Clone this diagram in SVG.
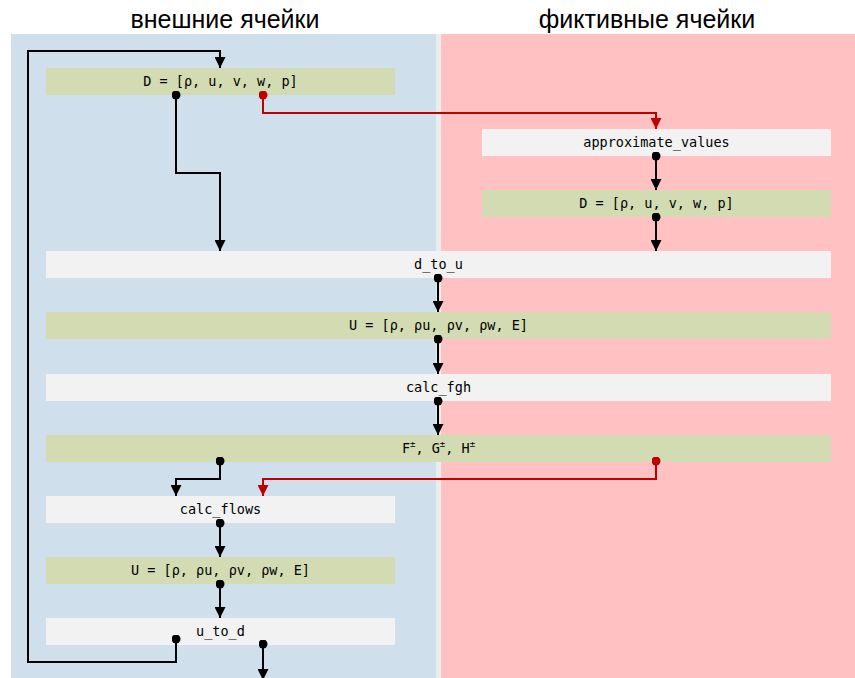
<svg xmlns="http://www.w3.org/2000/svg" width="855" height="678" viewBox="0 0 855 678">
  <defs>
    <marker id="arr" viewBox="0 0 10 10" refX="10" refY="5" markerWidth="11" markerHeight="11" markerUnits="userSpaceOnUse" orient="auto">
      <path d="M0,0 L10,5 L0,10 Z" fill="#000"/>
    </marker>
    <marker id="arr-red" viewBox="0 0 10 10" refX="10" refY="5" markerWidth="11" markerHeight="11" markerUnits="userSpaceOnUse" orient="auto">
      <path d="M0,0 L10,5 L0,10 Z" fill="#c00000"/>
    </marker>
    <marker id="dot" viewBox="0 0 10 10" refX="5" refY="5" markerWidth="9" markerHeight="9" markerUnits="userSpaceOnUse">
      <circle cx="5" cy="5" r="5" fill="#000"/>
    </marker>
    <marker id="dot-red" viewBox="0 0 10 10" refX="5" refY="5" markerWidth="9" markerHeight="9" markerUnits="userSpaceOnUse">
      <circle cx="5" cy="5" r="5" fill="#c00000"/>
    </marker>
  </defs>
  <style>
    .title { font-family: "Liberation Sans", Arial, sans-serif; font-size: 25px; fill: #000; text-anchor: middle; }
    .lbl { font-family: "DejaVu Sans Mono", "Liberation Mono", monospace; font-size: 13.5px; fill: #000; text-anchor: middle; }
    .sup { font-size: 9px; }
    .data { fill: #d3dbb3; }
    .func { fill: #f2f2f2; }
    .wire { fill: none; stroke: #000; stroke-width: 2; marker-start: url(#dot); marker-end: url(#arr); }
    .wire-red { fill: none; stroke: #c00000; stroke-width: 2; marker-start: url(#dot-red); marker-end: url(#arr-red); }
  </style>

  <!-- background zones -->
  <rect x="0" y="0" width="855" height="678" fill="#ffffff"/>
  <rect x="11" y="34" width="425" height="644" fill="#cfdfec"/>
  <rect x="436" y="34" width="5" height="644" fill="#eaedf0"/>
  <rect x="441" y="34" width="414" height="644" fill="#ffc1c1"/>
  <text class="title" x="225" y="28">внешние ячейки</text>
  <text class="title" x="647" y="28">фиктивные ячейки</text>

  <!-- nodes -->
  <g id="d-outer">
    <rect class="data" x="46" y="68" width="349" height="27"/>
    <text class="lbl" x="220.5" y="86">D = [ρ, u, v, w, p]</text>
  </g>
  <g id="approximate-values">
    <rect class="func" x="482" y="129" width="349" height="27"/>
    <text class="lbl" x="656.5" y="147">approximate_values</text>
  </g>
  <g id="d-ghost">
    <rect class="data" x="482" y="190" width="349" height="27"/>
    <text class="lbl" x="656.5" y="208">D = [ρ, u, v, w, p]</text>
  </g>
  <g id="d-to-u">
    <rect class="func" x="46" y="251" width="785" height="27"/>
    <text class="lbl" x="438.5" y="269">d_to_u</text>
  </g>
  <g id="u-all">
    <rect class="data" x="46" y="312" width="785" height="27"/>
    <text class="lbl" x="438.5" y="330">U = [ρ, ρu, ρv, ρw, E]</text>
  </g>
  <g id="calc-fgh">
    <rect class="func" x="46" y="374" width="785" height="27"/>
    <text class="lbl" x="438.5" y="392">calc_fgh</text>
  </g>
  <g id="fgh">
    <rect class="data" x="46" y="435" width="785" height="27"/>
    <text class="lbl" x="438.5" y="453">F<tspan class="sup" dy="-6">±</tspan><tspan dy="6">, G</tspan><tspan class="sup" dy="-6">±</tspan><tspan dy="6">, H</tspan><tspan class="sup" dy="-6">±</tspan></text>
  </g>
  <g id="calc-flows">
    <rect class="func" x="46" y="496" width="349" height="27"/>
    <text class="lbl" x="220.5" y="514">calc_flows</text>
  </g>
  <g id="u-outer">
    <rect class="data" x="46" y="557" width="349" height="27"/>
    <text class="lbl" x="220.5" y="575">U = [ρ, ρu, ρv, ρw, E]</text>
  </g>
  <g id="u-to-d">
    <rect class="func" x="46" y="618" width="349" height="27"/>
    <text class="lbl" x="220.5" y="636">u_to_d</text>
  </g>

  <!-- connectors -->
  <g id="connectors">
    <path class="wire" d="M176,639 V662 H28 V51 H220 V68"/>
    <path class="wire" d="M176,95 V173 H220 V251"/>
    <path class="wire-red" d="M263,95 V113 H656 V129"/>
    <path class="wire" d="M656,156 V190"/>
    <path class="wire" d="M656,217 V251"/>
    <path class="wire" d="M438,278 V312"/>
    <path class="wire" d="M438,339 V374"/>
    <path class="wire" d="M438,401 V435"/>
    <path class="wire" d="M220,461 V479 H176 V496"/>
    <path class="wire-red" d="M656,461 V479 H263 V496"/>
    <path class="wire" d="M220,523 V557"/>
    <path class="wire" d="M220,584 V618"/>
    <path class="wire" d="M263,644 V680"/>
  </g>
</svg>
